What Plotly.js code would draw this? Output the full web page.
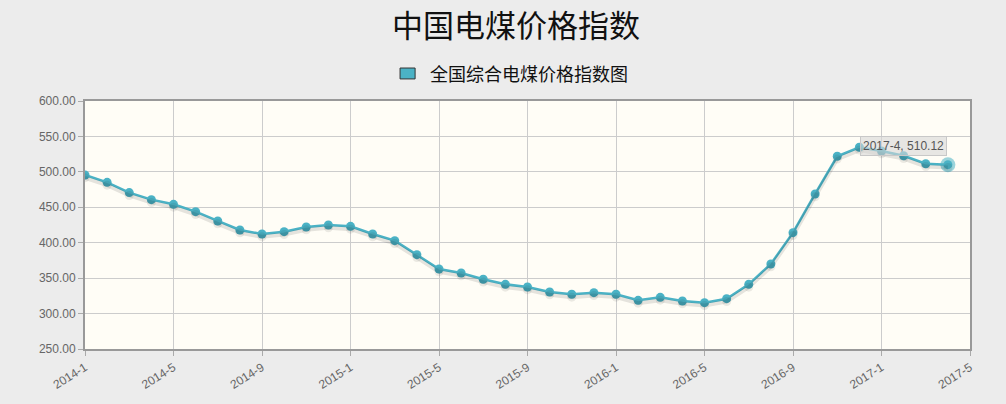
<!DOCTYPE html>
<html>
<head>
<meta charset="utf-8">
<script src="https://cdn.plot.ly/plotly-3.0.1.min.js"></script>
<style>
html,body{margin:0;padding:0;background:#ececec;}
#chart{width:1006px;height:404px;}
</style>
</head>
<body>
<div id="chart"></div>
<script>
// Data
var months = ["2014-1","2014-2","2014-3","2014-4","2014-5","2014-6","2014-7","2014-8","2014-9","2014-10","2014-11","2014-12",
              "2015-1","2015-2","2015-3","2015-4","2015-5","2015-6","2015-7","2015-8","2015-9","2015-10","2015-11","2015-12",
              "2016-1","2016-2","2016-3","2016-4","2016-5","2016-6","2016-7","2016-8","2016-9","2016-10","2016-11","2016-12",
              "2017-1","2017-2","2017-3","2017-4"];
var indexValues = [495.6,485.2,470.7,460.8,454.2,443.8,430.7,418.0,412.3,415.6,422.2,425.0,
                   423.1,412.3,402.9,383.1,362.9,357.3,348.4,341.3,337.5,330.5,327.2,329.5,
                   327.2,318.7,322.9,317.8,315.4,321.0,341.3,370.0,414.2,468.8,522.0,534.7,
                   529.4,522.8,511.5,510.12];
var tickLabels = ["2014-1","2014-5","2014-9","2015-1","2015-5","2015-9","2016-1","2016-5","2016-9","2017-1","2017-5"];
var seriesName = "全国综合电煤价格指数图";
var chartTitle = "中国电煤价格指数";

var xIdx = months.map(function(m,i){return i;});
var tickVals = tickLabels.map(function(t,i){return i*4;});
var last = months.length-1;
var lineColor = "#4bb2c5";

var shadow = {
  x: xIdx, y: indexValues, type:"scatter", mode:"lines+markers", yaxis:"y2", xaxis:"x",
  line:{color:"rgba(0,0,0,0.10)", width:4}, marker:{size:9, color:"rgba(0,0,0,0.08)"},
  hoverinfo:"skip", showlegend:false
};
var main = {
  x: xIdx, y: indexValues, type:"scatter", mode:"lines+markers",
  line:{color:lineColor, width:2.5}, marker:{size:9, color:lineColor},
  name: seriesName, showlegend:false
};
var highlight = {
  x:[last], y:[indexValues[last]], type:"scatter", mode:"markers",
  marker:{size:15, color:"rgba(75,178,197,0.55)"}, showlegend:false, hoverinfo:"skip"
};

var tickFont = {family:"Liberation Sans Narrow, Liberation Sans, Arial", size:12, color:"#666"};

var layout = {
  width:1006, height:404,
  margin:{l:85, r:36, t:101, b:55},
  paper_bgcolor:"#ececec",
  plot_bgcolor:"#fffdf6",
  title:{text:chartTitle, x:0.513, xanchor:"center", y:0.935, yanchor:"middle",
         font:{family:"Noto Sans CJK SC, Noto Sans", size:31, color:"#111"}},
  xaxis:{
    range:[0,40], tickmode:"array", tickvals:tickVals, ticktext:tickLabels,
    tickangle:-32, tickfont:tickFont, ticks:"outside", ticklen:5, tickcolor:"#aaa",
    showgrid:true, gridcolor:"#cccccc", gridwidth:1, zeroline:false,
    showline:true, linecolor:"#999", linewidth:2, mirror:true, fixedrange:true
  },
  yaxis:{
    range:[250,600], dtick:50, tickformat:".2f",
    tickfont:{family:"Liberation Sans Narrow, Liberation Sans, Arial", size:12, color:"#666"},
    ticks:"outside", ticklen:5, tickcolor:"#aaa",
    showgrid:true, gridcolor:"#cccccc", gridwidth:1, zeroline:false,
    showline:true, linecolor:"#999", linewidth:2, mirror:true, fixedrange:true
  },
  yaxis2:{
    overlaying:"y", range:[250+4, 600+4], visible:false, showgrid:false, fixedrange:true
  },
  showlegend:false,
  shapes:[
    {type:"rect", xref:"paper", yref:"paper", x0:0.356, x1:0.373, y0:1.089, y1:1.133,
     fillcolor:lineColor, line:{color:"#333", width:1}}
  ],
  annotations:[
    {xref:"paper", yref:"paper", x:0.3876, y:1.111, xanchor:"left", yanchor:"middle",
     text:seriesName, showarrow:false,
     font:{family:"Noto Sans CJK SC, Noto Sans", size:18, color:"#111"}},
    {xref:"x", yref:"y", x:35.05, y:536.5, xanchor:"left", yanchor:"middle",
     text: months[last] + ", " + indexValues[last].toFixed(2), showarrow:false,
     bgcolor:"rgba(215,215,215,0.6)", bordercolor:"#c8c8c8", borderwidth:1, borderpad:2,
     font:{family:"Liberation Sans Narrow, Liberation Sans, Arial", size:12, color:"#555"}}
  ]
};

Plotly.newPlot("chart", [shadow, main, highlight], layout, {displayModeBar:false, staticPlot:true});
</script>
</body>
</html>
